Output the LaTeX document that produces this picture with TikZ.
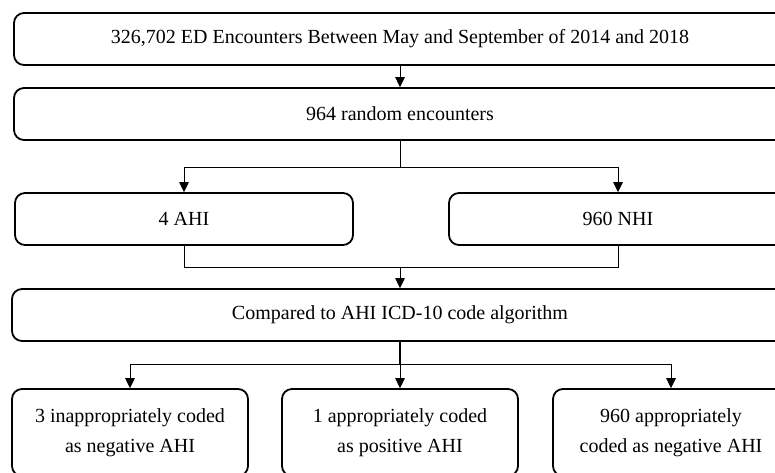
\documentclass[tikz,border=0pt]{standalone}
\usepackage{fontspec}
\setmainfont{Liberation Serif}
\usetikzlibrary{arrows.meta}
\begin{document}
\begin{tikzpicture}[x=0.5pt,y=-0.5pt,
  box/.style={draw,line width=0.9pt,rounded corners=5pt,inner sep=0pt,align=center,
    font=\fontsize{10}{15}\selectfont,minimum height=26pt},
  conn/.style={line width=0.5pt},
  arr/.style={conn,-{Triangle[width=4.8pt,length=5pt]}},
  thk/.style={line width=1pt}]
\clip (0,0) rectangle (775,472);
\useasboundingbox (0,0) rectangle (775,472);
\node[box,minimum width=386pt] (b1) at (400,39) {326,702 ED Encounters Between May and September of 2014 and 2018};
\node[box,minimum width=386pt] (b2) at (400,114) {964 random encounters};
\node[box,minimum width=169pt] (b3) at (184,219) {4 AHI};
\node[box,minimum width=169pt] (b4) at (618,219) {960 NHI};
\node[box,minimum width=388pt] (b5) at (400,315) {Compared to AHI ICD-10 code algorithm};
\node[box,minimum width=118pt,minimum height=43.5pt] (b6) at (130,432.5) {3 inappropriately coded\\as negative AHI};
\node[box,minimum width=118pt,minimum height=43.5pt] (b7) at (400,432.5) {1 appropriately coded\\as positive AHI};
\node[box,minimum width=118pt,minimum height=43.5pt] (b8) at (671,432.5) {960 appropriately\\coded as negative AHI};
\coordinate (j1) at (400,167);
\coordinate (j2) at (400,267);
\coordinate (j3) at (400,364);
\draw[arr] (b1.south) -- (b2.north);
\draw[conn] (b2.south) -- (j1);
\draw[arr] (j1) -| (b3.north);
\draw[arr] (j1) -| (b4.north);
\draw[conn] (b3.south) |- (j2);
\draw[conn] (b4.south) |- (j2);
\draw[arr] (j2) -- (b5.north);
\draw[thk] (b5.south) -- (j3);
\draw[arr] (j3) -| (b6.north);
\draw[arr] (j3) -- (b7.north);
\draw[arr] (j3) -| (b8.north);
\end{tikzpicture}
\end{document}
